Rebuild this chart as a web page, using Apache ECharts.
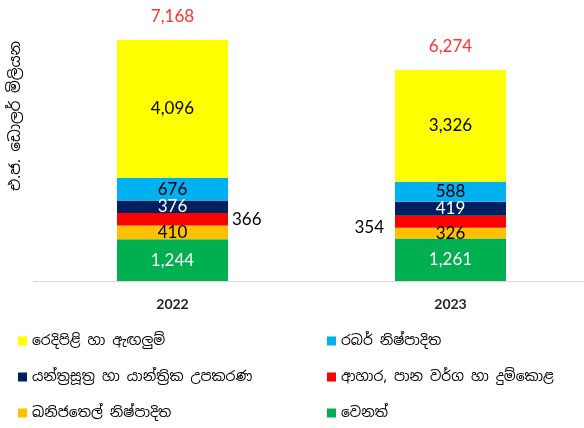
<!DOCTYPE html>
<html>
<head>
<meta charset="utf-8">
<script src="https://cdn.jsdelivr.net/npm/echarts@6/dist/echarts.min.js"></script>
<style>
  html, body { margin: 0; padding: 0; background: #fff; }
  #chart { width: 584px; height: 428px; }
</style>
</head>
<body>
<div id="chart"></div>
<script>
'use strict';

// 数据
const years = ['2022', '2023'];
const seriesNames = [
    'වෙනත්',
    'ඛනිජතෙල් නිෂ්පාදිත',
    'ආහාර, පාන වර්ග හා දුම්කොළ',
    'යන්ත්‍රසූත්‍ර හා යාන්ත්‍රික උපකරණ',
    'රබර් නිෂ්පාදිත',
    'රෙදිපිළි හා ඇඟලුම්'
];
const other = [1244, 1261];
const petroleum = [410, 326];
const food = [366, 354];
const machinery = [376, 419];
const rubber = [676, 588];
const garments = [4096, 3326];
const totals = [7168, 6274];

const colors = ['#00b050', '#ffc000', '#ff0000', '#002060', '#00b0f0', '#ffff00'];
const labelColors = ['#fff', '#000', '#000', '#fff', '#000', '#000'];
const values = [other, petroleum, food, machinery, rubber, garments];

const numFont = 'Lato, "Open Sans", sans-serif';
const sinFont = '"Noto Sans Sinhala", "Noto Sans", sans-serif';
const fmt = v => v.toLocaleString('en-US');

const chart = echarts.init(document.getElementById('chart'));

const series = values.map((arr, k) => {
    let data = arr;
    if (k === 2) {
        // 红色那段的标签放在柱子外面
        data = arr.map((v, i) => ({
            value: v,
            label: i === 0
                ? { position: 'right', distance: 4, color: '#000' }
                : { position: 'left', distance: 11, color: '#000', offset: [0, 6] }
        }));
    }
    return {
        name: seriesNames[k],
        type: 'bar',
        stack: 'exp',
        barWidth: 111,
        itemStyle: { color: colors[k] },
        label: {
            show: true,
            position: 'inside',
            color: labelColors[k],
            fontFamily: numFont,
            fontSize: 17,
            formatter: p => fmt(p.value)
        },
        data: data
    };
});

// 总数 (透明柱)
series.push({
    name: 'total',
    type: 'bar',
    barWidth: 111,
    barGap: '-100%',
    silent: true,
    itemStyle: { color: 'transparent' },
    label: {
        show: true,
        position: 'top',
        distance: 15,
        color: '#ff3333',
        fontFamily: numFont,
        fontSize: 17,
        formatter: p => fmt(p.value)
    },
    data: totals,
    z: 1
});

const legendText = { color: '#000', fontFamily: sinFont, fontSize: 14 };

const option = {
    animation: false,
    grid: { left: 33.5, width: 556, top: 12, bottom: 147, outerBoundsMode: 'none', containLabel: false },
    xAxis: {
        type: 'category',
        data: years,
        axisTick: { show: false },
        axisLine: { lineStyle: { color: '#d9d9d9', width: 1 } },
        axisLabel: { color: '#262626', fontFamily: numFont, fontSize: 14, fontWeight: 'bold', margin: 16 }
    },
    yAxis: {
        type: 'value',
        min: 0,
        max: 8000,
        show: false,
        splitLine: { show: false }
    },
    legend: [
        {
            orient: 'vertical',
            left: 13,
            top: 329,
            itemWidth: 9,
            itemHeight: 9,
            itemGap: 22,
            icon: 'rect',
            textStyle: legendText,
            data: [seriesNames[5], seriesNames[3], seriesNames[1]]
        },
        {
            orient: 'vertical',
            left: 322,
            top: 329,
            itemWidth: 9,
            itemHeight: 9,
            itemGap: 22,
            icon: 'rect',
            textStyle: legendText,
            data: [seriesNames[4], seriesNames[2], seriesNames[0]]
        }
    ],
    graphic: [
        {
            type: 'text',
            x: 16,
            y: 116,
            rotation: Math.PI / 2,
            style: {
                text: 'එ.ජ. ඩොලර් මිලියන',
                fill: '#000',
                font: '15px ' + sinFont,
                align: 'center',
                verticalAlign: 'middle'
            }
        }
    ],
    series: series
};

chart.setOption(option);
</script>
</body>
</html>
